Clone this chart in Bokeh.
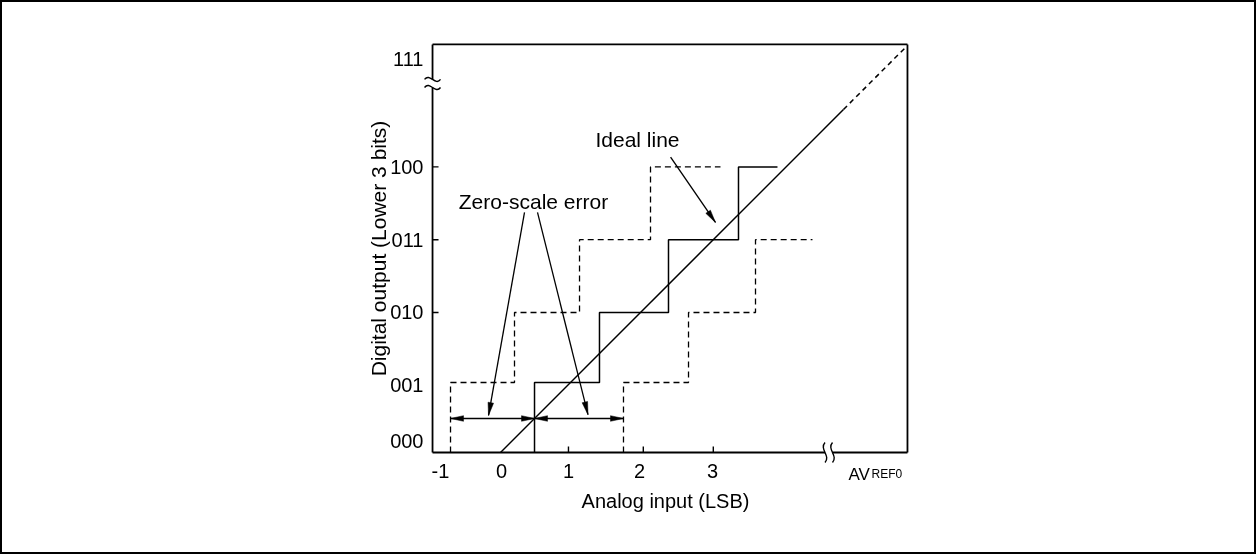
import math
from bokeh.plotting import figure
from bokeh.models import FixedTicker, Range1d
from bokeh.core.properties import value
from bokeh.embed import file_html
from bokeh.resources import INLINE

FONT = "Liberation Sans"

# ---- axis ticks / labels (positions in diagram units, 1 unit ~ 1 LSB / 1 code) ----
x_tick_pos = [-0.857, 0.014, 0.971, 1.986, 3.03]
x_tick_labels = ["-1", "0", "1", "2", "3"]
x_tick_marks = [0.971, 2.04, 3.04]
y_tick_pos = [0.171, 0.96, 2.0, 3.04, 4.08, 5.614]
y_tick_labels = ["000", "001", "010", "011", "100", "111"]
y_tick_marks = [2.0, 3.04, 4.08]

# ---- diagram box and axis breaks ----
x_box = [-0.971, 5.814]
y_box = [0.0, 5.829]
y_break = [5.214, 5.329]
x_break = [4.636, 4.743]

# ---- transfer characteristics ----
solid_x = [0.486, 0.486, 1.414, 1.414, 2.4, 2.4, 3.4, 3.4, 3.957]
solid_y = [0.0, 1.0, 1.0, 2.0, 2.0, 3.04, 3.04, 4.08, 4.08]
left_x = [-0.714, -0.714, 0.2, 0.2, 1.129, 1.129, 2.143, 2.143, 3.143]
left_y = [0.0, 1.0, 1.0, 2.0, 2.0, 3.04, 3.04, 4.08, 4.08]
right_x = [1.757, 1.757, 2.686, 2.686, 3.643, 3.643, 4.457]
right_y = [0.0, 1.0, 1.0, 2.0, 2.0, 3.04, 3.04]
ideal_solid = [0.0, 4.9]
ideal_dashed = [4.9, 5.77]

# ---- zero-scale error dimension arrows ----
zse_x0 = [-0.714, 0.486]
zse_x1 = [0.486, 1.757]
zse_y = 0.486

# ---- annotation pointers ----
ptr_x0 = [0.343, 0.529, 2.43]
ptr_y0 = [3.43, 3.43, 4.22]
ptr_x1 = [-0.171, 1.25, 3.071]
ptr_y1 = [0.529, 0.54, 3.286]

notes = ["Zero-scale error", "Ideal line"]
notes_x = [0.471, 1.957]
notes_y = [3.586, 4.471]

y_title = "Digital output (Lower 3 bits)"
y_title_pos = (-1.743, 2.914)
avref_main, avref_sub = "AV", "REF0"
avref_x = [4.971, 5.3]
avref_y = -0.314

PX = 1.0 / 70.0  # one screen pixel in diagram units

p = figure(width=1256, height=554,
           x_range=Range1d(-2.0286, 6.743), y_range=Range1d(-0.457, 5.871),
           output_backend="svg", toolbar_location=None,
           min_border_left=356, min_border_right=286,
           min_border_top=39, min_border_bottom=72)
p.styles = {"position": "fixed", "left": "0px", "top": "0px",
            "border": "2px solid black"}
p.outline_line_color = None
p.grid.visible = False
p.background_fill_color = "white"
p.border_fill_color = "white"

for ax, pos, labs in ((p.xaxis[0], x_tick_pos, x_tick_labels),
                      (p.yaxis[0], y_tick_pos, y_tick_labels)):
    ax.ticker = FixedTicker(ticks=pos)
    ax.major_label_overrides = {t: l for t, l in zip(pos, labs)}
    ax.axis_line_color = None
    ax.major_tick_line_color = None
    ax.minor_tick_line_color = None
    ax.major_label_text_font = FONT
    ax.major_label_text_font_size = "20px"
    ax.major_label_text_color = "black"
    ax.axis_label_text_font = FONT
    ax.axis_label_text_font_size = "20px"
    ax.axis_label_text_font_style = "normal"
    ax.axis_label_text_color = "black"

p.xaxis.major_label_standoff = -27
p.yaxis.major_label_standoff = -71
p.xaxis.axis_label = "Analog input (LSB)"
p.xaxis.axis_label_standoff = 9

LW = 1.5
K = "black"
BW = 1.8
# box (left and bottom sides broken)
p.line([x_box[0], x_box[1]], [y_box[1], y_box[1]], line_color=K, line_width=BW)
p.line([x_box[1], x_box[1]], [y_box[0], y_box[1]], line_color=K, line_width=BW)
p.line([x_box[0], x_box[0]], [y_box[0], y_break[0]], line_color=K, line_width=BW)
p.line([x_box[0], x_box[0]], [y_break[1], y_box[1]], line_color=K, line_width=BW)
p.line([x_box[0], x_break[0]], [y_box[0], y_box[0]], line_color=K, line_width=BW)
p.line([x_break[1], x_box[1]], [y_box[0], y_box[0]], line_color=K, line_width=BW)

# break marks
bw = 8 * PX
for yb in y_break:
    p.bezier(x0=[x_box[0] - bw], y0=[yb], x1=[x_box[0] + bw], y1=[yb],
             cx0=[x_box[0] - bw / 3], cy0=[yb + 7 * PX],
             cx1=[x_box[0] + bw / 3], cy1=[yb - 7 * PX],
             line_color=K, line_width=1.4)
bh = 10 * PX
for xb in x_break:
    p.bezier(x0=[xb], y0=[y_box[0] - bh], x1=[xb], y1=[y_box[0] + bh],
             cx0=[xb + 6 * PX], cy0=[y_box[0] - bh / 3],
             cx1=[xb - 6 * PX], cy1=[y_box[0] + bh / 3],
             line_color=K, line_width=1.4)

# tick marks (inside)
p.segment(x0=x_tick_marks, y0=[y_box[0]] * len(x_tick_marks),
          x1=x_tick_marks, y1=[y_box[0] + 6 * PX] * len(x_tick_marks),
          line_color=K, line_width=1.4)
p.segment(x0=[x_box[0]] * len(y_tick_marks), y0=y_tick_marks,
          x1=[x_box[0] + 6 * PX] * len(y_tick_marks), y1=y_tick_marks,
          line_color=K, line_width=1.4)

# characteristics
p.line(ideal_solid, ideal_solid, line_color=K, line_width=LW)
p.line(ideal_dashed, ideal_dashed, line_color=K, line_width=LW, line_dash="5 4")
p.line(solid_x, solid_y, line_color=K, line_width=LW)
p.line(left_x, left_y, line_color=K, line_width=1.3, line_dash="6 4")
p.line(right_x, right_y, line_color=K, line_width=1.3, line_dash="6 4")


def head(xs, ys, xt, yt, length=13 * PX, half=2.8 * PX):
    dx, dy = xt - xs, yt - ys
    n = math.hypot(dx, dy)
    ux, uy = dx / n, dy / n
    bx, by = xt - ux * length, yt - uy * length
    return ([xt, bx - uy * half, bx + uy * half], [yt, by + ux * half, by - ux * half])


hx, hy = [], []
for a, b in zip(zse_x0, zse_x1):
    p.line([a, b], [zse_y, zse_y], line_color=K, line_width=1.3)
    for s, t in ((b, a), (a, b)):
        h = head(s, zse_y, t, zse_y)
        hx.append(h[0]); hy.append(h[1])
for a, b, c, d in zip(ptr_x0, ptr_y0, ptr_x1, ptr_y1):
    p.line([a, c], [b, d], line_color=K, line_width=1.3)
    h = head(a, b, c, d)
    hx.append(h[0]); hy.append(h[1])
p.patches(hx, hy, fill_color=K, line_color=K, line_width=0.5)

p.text(x=notes_x, y=notes_y, text=notes, text_font=value(FONT),
       text_font_size="21px", text_align="center", text_baseline="middle",
       text_color=K)

p.text(x=[y_title_pos[0]], y=[y_title_pos[1]], text=[y_title], angle=math.pi / 2,
       text_font=value(FONT), text_font_size="21px", text_align="center",
       text_baseline="middle", text_color=K)

p.text(x=[avref_x[0]], y=[avref_y], text=[avref_main], text_font=value(FONT),
       text_font_size="17px", text_align="left", text_baseline="alphabetic",
       text_color=K)
p.text(x=[avref_x[1]], y=[avref_y], text=[avref_sub], text_font=value(FONT),
       text_font_size="12px", text_align="left", text_baseline="alphabetic",
       text_color=K)

open("out.html", "w").write(file_html(p, INLINE))
